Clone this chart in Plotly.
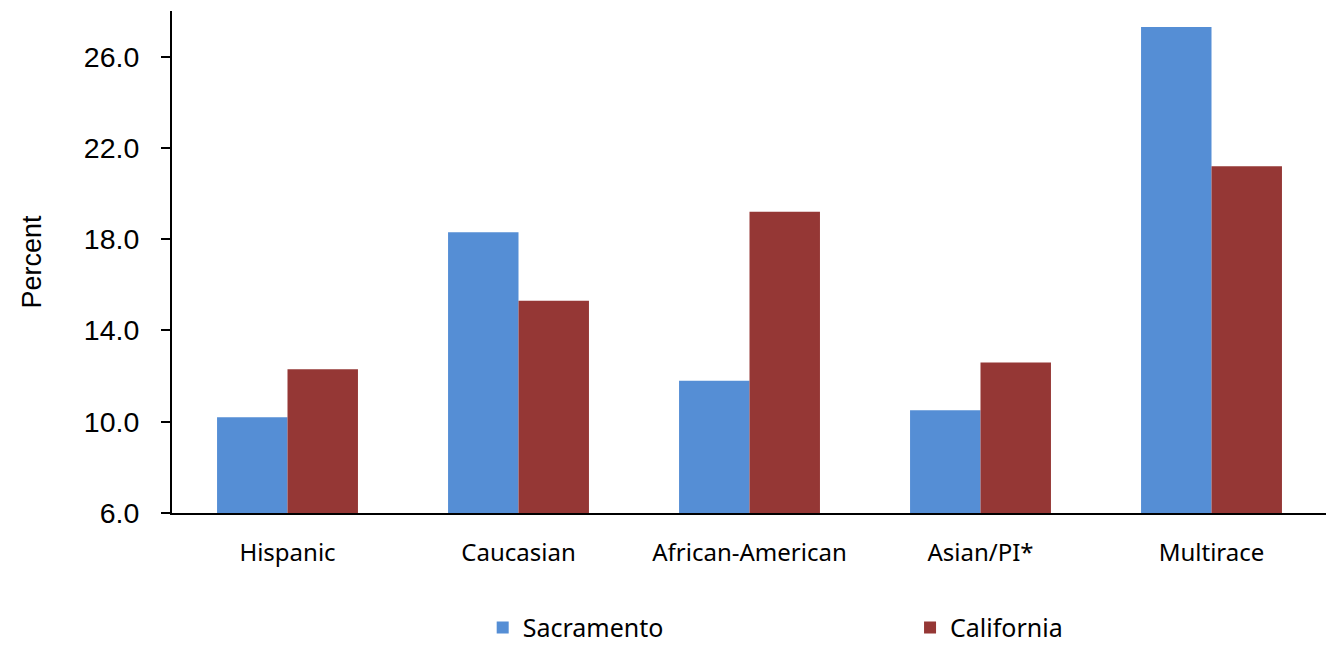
import plotly.graph_objects as go

# ---------------------------------------------------------------
# data
groups = ['Hispanic', 'Caucasian', 'African-American', 'Asian/PI*', 'Multirace']
sacramento = [10.2, 18.3, 11.8, 10.5, 27.3]
california = [12.3, 15.3, 19.2, 12.6, 21.2]
y_ticks = [6.0, 10.0, 14.0, 18.0, 22.0, 26.0]

blue = '#558ED5'
red = '#953735'

legend_font = dict(family='Noto Sans', size=25, color='black')

fig = go.Figure()
fig.add_trace(go.Bar(x=groups, y=sacramento, name='Sacramento', legend='legend',
                     marker=dict(color=blue, line=dict(width=0))))
fig.add_trace(go.Bar(x=groups, y=california, name='California', legend='legend2',
                     marker=dict(color=red, line=dict(width=0))))

# page body has an 8px margin, so the figure is 8px smaller each way
fig.update_layout(
    width=1326, height=637,
    margin=dict(l=164, r=7, t=3, b=132),
    paper_bgcolor='white', plot_bgcolor='white',
    barmode='group', bargap=0.39, bargroupgap=0,
    showlegend=True,
    # two legends so the entries sit far apart, like the original
    # (container coords so they do not push the plot margins)
    legend=dict(orientation='h', x=0.269, xanchor='left',
                y=0.027, yref='container', yanchor='middle',
                font=legend_font, bgcolor='rgba(0,0,0,0)'),
    legend2=dict(orientation='h', x=0.639, xanchor='left',
                 y=0.027, yref='container', yanchor='middle',
                 font=legend_font, bgcolor='rgba(0,0,0,0)'),
    xaxis=dict(
        showline=True, linecolor='black', linewidth=2,
        ticks='', showgrid=False,
        tickfont=dict(family='Noto Sans', size=24, color='black'),
        ticklabelstandoff=17,
    ),
    yaxis=dict(
        range=[6, 28],
        tickvals=y_ticks,
        tickformat='.1f',
        showline=True, linecolor='black', linewidth=2,
        ticks='outside', ticklen=9, tickwidth=1.5, tickcolor='black',
        ticklabelstandoff=16,
        showgrid=False, zeroline=False,
        tickfont=dict(family='Liberation Sans', size=28.5, color='black'),
        title=dict(text='Percent', standoff=34,
                   font=dict(family='Liberation Sans', size=27, color='black')),
    ),
)

fig.write_html("out.html")
